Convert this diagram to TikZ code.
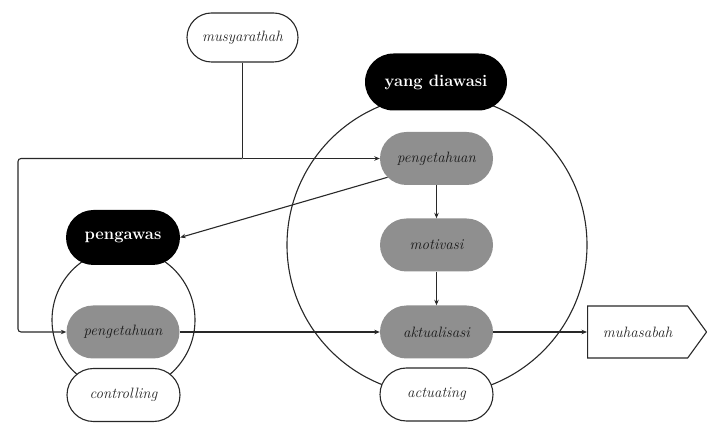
\documentclass[tikz,border=0pt]{standalone}
\usepackage{fontspec}
\usetikzlibrary{shapes.misc,shapes.symbols,arrows.meta}
\definecolor{boxgray}{RGB}{143,143,143}
\definecolor{linec}{RGB}{40,40,40}
\begin{document}
\begin{tikzpicture}[x=1pt,y=-1pt,
  pill/.style={rounded rectangle, minimum width=113pt, minimum height=53pt, inner sep=0pt, font=\fontsize{15}{17}\selectfont\itshape},
  graypill/.style={pill, fill=boxgray, text=black!90},
  whitepill/.style={pill, draw=linec, line width=1.1pt, fill=white, text=black!85},
  blackpill/.style={rounded rectangle, fill=black, text=white, inner sep=0pt, font=\fontsize{16.5}{18}\selectfont\bfseries},
  conn/.style={draw=linec, line width=1.1pt},
  arr/.style={conn, -{Stealth[length=5.5pt,width=4.5pt]}},
]
\useasboundingbox (0,0) rectangle (707,427);
\draw[conn] (437,245) circle[radius=150pt];
\draw[conn] (123.5,320) circle[radius=71.5pt];
\node[whitepill, minimum width=111pt, minimum height=49pt] (musy) at (242.5,37.5) {musyarathah};
\node[blackpill, minimum width=142pt, minimum height=57pt] (yd) at (436,82) {yang diawasi};
\node[graypill] (pR) at (436.5,158.5) {pengetahuan};
\node[graypill] (mot) at (436.5,245) {motivasi};
\node[graypill] (akt) at (436.5,332) {aktualisasi};
\node[whitepill] (act) at (436.5,394.5) {actuating};
\node[blackpill, minimum width=114pt, minimum height=55pt] (pw) at (123,237.5) {pengawas};
\node[graypill] (pL) at (123,332) {pengetahuan};
\node[whitepill] (ctl) at (123.5,395) {controlling};
\node[signal, signal to=east, signal pointer angle=108, draw=linec, line width=1.1pt, fill=white, text=black!85, minimum width=119pt, minimum height=52pt, inner sep=0pt, font=\fontsize{15}{17}\selectfont\itshape, anchor=west] (muh) at (587,332) {muhasabah};
\coordinate (j) at (musy.south |- pR.west);
\coordinate (c1) at (18,158.5);
\coordinate (c2) at (18,332);
\draw[conn] (musy.south) -- (j);
\draw[arr] (j) -- (pR.west);
\draw[arr, rounded corners=3pt] (j) -- (c1) -- (c2) -- (pL.west);
\draw[arr] (pR.201) -- (pw.east);
\draw[arr] (pR.south) -- (mot.north);
\draw[arr] (mot.south) -- (akt.north);
\draw[arr] (pL.east) -- (akt.west);
\draw[arr] (akt.east) -- (muh.west);
\end{tikzpicture}
\end{document}
